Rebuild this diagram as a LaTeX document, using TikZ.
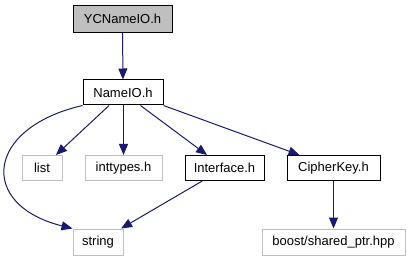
\documentclass[tikz,border=0pt]{standalone}
\usepackage{fontspec}
\setmainfont{Liberation Sans}
\usetikzlibrary{arrows.meta}
\definecolor{edgeblue}{HTML}{191970}
\definecolor{extgrey}{HTML}{BFBFBF}
\begin{document}
\begin{tikzpicture}[x=1pt,y=-1pt,
  filebox/.style={draw=black, rectangle, inner sep=0pt, line width=1pt,
    font=\fontsize{13}{13}\selectfont, minimum height=25pt},
  rootbox/.style={filebox, fill=extgrey},
  extbox/.style={filebox, draw=extgrey},
  dep/.style={draw=edgeblue, line width=1pt,
    -{Triangle[length=11pt,width=9pt]}}]
\useasboundingbox (0,0) rectangle (411,261);

\node[rootbox, minimum width=99pt, minimum height=27pt] (yc) at (122.5,19) {YCNameIO.h};
\node[filebox, minimum width=80pt] (nameio) at (123,92.5) {NameIO.h};
\node[extbox, minimum width=40pt] (list) at (42,168) {list};
\node[extbox, minimum width=77pt] (inttypes) at (123.5,168) {inttypes.h};
\node[filebox, minimum width=79pt] (iface) at (224.5,168) {Interface.h};
\node[filebox, minimum width=93pt] (cipher) at (333.5,168) {CipherKey.h};
\node[extbox, minimum width=50pt, minimum height=26pt] (string) at (98,242) {string};
\node[extbox, minimum width=143pt, minimum height=26pt] (boost) at (333.5,242) {boost/shared\_ptr.hpp};

\draw[dep] (yc) -- (nameio);
\draw[dep] (nameio.south west) .. controls (-15,128) and (-22,205) .. (string.north west);
\draw[dep] (nameio) -- (list);
\draw[dep] (nameio.south -| inttypes.north) -- (inttypes.north);
\draw[dep] (nameio) -- (iface);
\draw[dep] (nameio.south east) -- ([xshift=13pt]cipher.north west);
\draw[dep] (iface) -- (string);
\draw[dep] (cipher) -- (boost);
\end{tikzpicture}
\end{document}
